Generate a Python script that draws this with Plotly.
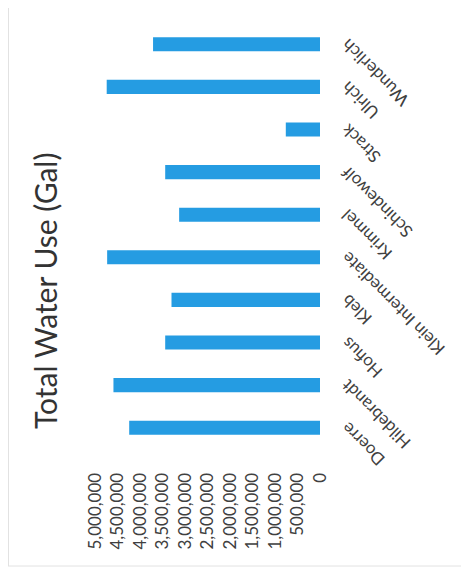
import plotly.graph_objects as go

categories = ["Doerre", "Hildebrandt", "Hofius", "Kleb", "Klein Intermediate",
              "Krimmel", "Schindewolf", "Strack", "Ulrich", "Wunderlich"]
water_use = [4240000, 4590000, 3440000, 3300000, 4730000,
             3130000, 3440000, 760000, 4740000, 3710000]
tick_vals = [0, 500000, 1000000, 1500000, 2000000, 2500000,
             3000000, 3500000, 4000000, 4500000, 5000000]
title_text = "Total Water Use (Gal)"

# page has an 8px body margin; figure drawn 8px in from the window edge
OFF = 8
W, H = 469 - OFF, 578 - OFF
FONT = "Lato"

L, T, R, B = 95 - OFF, 23 - OFF, 20, H - (449 - OFF)
PW = W - L - R
PH = H - T - B


def px_x(page_x):
    return (page_x - OFF - L) / PW


def px_y(page_y):
    return (H - B - (page_y - OFF)) / PH


fig = go.Figure(go.Bar(
    x=water_use, y=categories, orientation="h",
    marker=dict(color="#259CE2", line=dict(width=0)),
    width=0.33,
))

fig.update_layout(
    width=W, height=H,
    margin=dict(l=L, r=R, t=T, b=B, autoexpand=False),
    paper_bgcolor="white", plot_bgcolor="white",
    showlegend=False,
    font=dict(family=FONT, size=17, color="#404040"),
    xaxis=dict(
        domain=[0, px_x(320)],
        range=[5000000, 0], tickvals=tick_vals, tickformat=",",
        tickangle=-90, showgrid=False, zeroline=False, showline=False,
        ticks="outside", ticklen=16, tickcolor="rgba(0,0,0,0)",
        tickfont=dict(family=FONT, size=17, color="#404040"),
        automargin=False,
    ),
    yaxis=dict(
        categoryorder="array", categoryarray=categories,
        side="left", anchor="free", position=px_x(343),
        tickangle=-135, showgrid=False, zeroline=False, showline=False,
        ticks="", ticklabelshift=2,
        tickfont=dict(family=FONT, size=17, color="#404040"),
        automargin=False,
    ),
    annotations=[dict(
        text=title_text, xref="paper", yref="paper",
        x=px_x(45), y=px_y(291), xanchor="center", yanchor="middle",
        showarrow=False, textangle=-90,
        font=dict(family=FONT, size=30, color="#333333"),
    )],
    shapes=[
        dict(type="line", xref="paper", yref="paper",
             x0=px_x(OFF + 0.5), x1=px_x(OFF + 0.5), y0=px_y(566), y1=px_y(OFF),
             line=dict(color="#e2e2e2", width=1)),
        dict(type="line", xref="paper", yref="paper",
             x0=px_x(OFF), x1=px_x(469), y0=px_y(566), y1=px_y(566),
             line=dict(color="#e2e2e2", width=1)),
    ],
)

fig.write_html("out.html")
